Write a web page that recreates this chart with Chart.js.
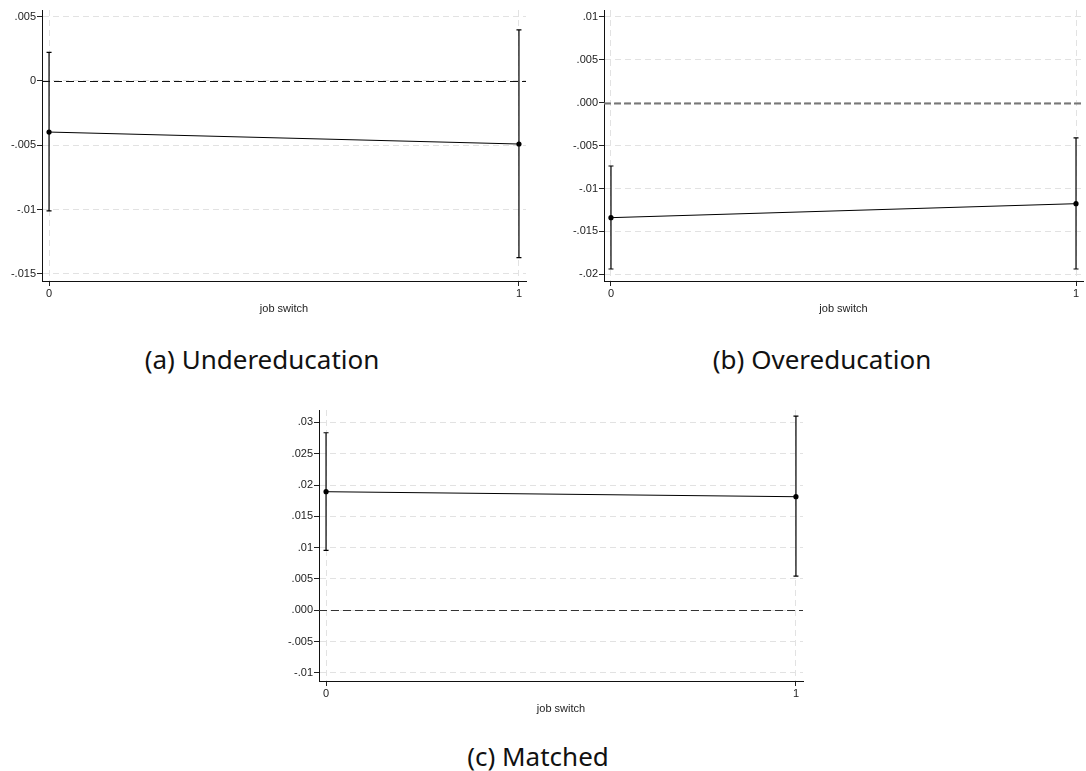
<!DOCTYPE html>
<html>
<head>
<meta charset="utf-8">
<script src="https://cdn.jsdelivr.net/npm/chart.js@4.4.1/dist/chart.umd.min.js"></script>
<style>
  html, body { margin: 0; padding: 0; background: #fff; width: 1086px; height: 771px; overflow: hidden; }
  body { position: relative; }
  .panel { position: absolute; }
  .caption {
    position: absolute; transform: translate(-50%, -50%);
    font-family: "Noto Sans", sans-serif; font-size: 26px; color: #111;
    white-space: nowrap; line-height: 30px;
  }
</style>
</head>
<body>
<div class="panel" style="left:0px;top:0px"><canvas id="chartA" width="540" height="316"></canvas></div>
<div class="panel" style="left:562px;top:0px"><canvas id="chartB" width="525" height="316"></canvas></div>
<div class="panel" style="left:277px;top:400px"><canvas id="chartC" width="540" height="316"></canvas></div>
<div class="caption" style="left:262px;top:359px">(a) Undereducation</div>
<div class="caption" style="left:822px;top:359px">(b) Overeducation</div>
<div class="caption" style="left:538px;top:756px">(c) Matched</div>

<script>
// Categories on the x axis
const jobSwitch = [0, 1];
const jobSwitchLabels = ['0', '1'];

// Undereducation: point estimates and confidence bounds
const underEst = [-0.00397, -0.0049];
const underLo  = [-0.0101, -0.01374];
const underHi  = [0.00223, 0.00397];

// Overeducation
const overEst = [-0.0134, -0.01177];
const overLo  = [-0.01938, -0.01938];
const overHi  = [-0.00738, -0.00411];

// Matched
const matchEst = [0.01893, 0.01813];
const matchLo  = [0.00957, 0.00547];
const matchHi  = [0.02834, 0.0310];

// Y tick values and their printed labels
const underTicks = [0.005, 0, -0.005, -0.01, -0.015];
const underTickLabels = ['.005', '0', '-.005', '-.01', '-.015'];
const overTicks = [0.01, 0.005, 0, -0.005, -0.01, -0.015, -0.02];
const overTickLabels = ['.01', '.005', '.000', '-.005', '-.01', '-.015', '-.02'];
const matchTicks = [0.03, 0.025, 0.02, 0.015, 0.01, 0.005, 0, -0.005, -0.01];
const matchTickLabels = ['.03', '.025', '.02', '.015', '.01', '.005', '.000', '-.005', '-.01'];

const tickFont = { family: 'Liberation Sans, Arial, sans-serif', size: 11 };

// Confidence interval whiskers with small caps
const errorBarPlugin = {
  id: 'errorBars',
  beforeDatasetsDraw(chart, args, opts) {
    const { ctx, scales: { x, y } } = chart;
    ctx.save();
    ctx.strokeStyle = '#000';
    ctx.lineWidth = 1.2;
    opts.xs.forEach((xv, i) => {
      const px = x.getPixelForValue(xv);
      const top = y.getPixelForValue(opts.hi[i]);
      const bot = y.getPixelForValue(opts.lo[i]);
      ctx.beginPath();
      ctx.moveTo(px, top); ctx.lineTo(px, bot);
      ctx.moveTo(px - 2.5, top); ctx.lineTo(px + 2.5, top);
      ctx.moveTo(px - 2.5, bot); ctx.lineTo(px + 2.5, bot);
      ctx.stroke();
    });
    ctx.restore();
  }
};

// Horizontal reference line at zero
const refLinePlugin = {
  id: 'refLine',
  beforeDatasetsDraw(chart, args, opts) {
    const { ctx, chartArea, scales: { y } } = chart;
    const py = Math.round(y.getPixelForValue(opts.value)) + 0.5;
    ctx.save();
    ctx.strokeStyle = opts.color;
    ctx.lineWidth = opts.width;
    ctx.setLineDash(opts.dash);
    ctx.beginPath();
    ctx.moveTo(chartArea.left, py);
    ctx.lineTo(chartArea.right, py);
    ctx.stroke();
    ctx.restore();
  }
};

function buildPanel(id, est, lo, hi, yMin, yMax, ticks, tickLabels, ref, padRight) {
  new Chart(document.getElementById(id), {
    type: 'scatter',
    data: {
      datasets: [{
        data: jobSwitch.map((xv, i) => ({ x: xv, y: est[i] })),
        showLine: true,
        borderColor: '#000',
        borderWidth: 1,
        pointRadius: 2.6,
        pointBackgroundColor: '#000',
        pointBorderWidth: 0,
        clip: false
      }]
    },
    options: {
      responsive: false,
      animation: false,
      events: [],
      layout: { padding: { left: 0, right: padRight, top: 10, bottom: 0 } },
      plugins: {
        legend: { display: false },
        tooltip: { enabled: false },
        errorBars: { xs: jobSwitch, lo: lo, hi: hi },
        refLine: ref
      },
      scales: {
        x: {
          type: 'linear', min: -0.015, max: 1.015,
          afterBuildTicks: s => { s.ticks = jobSwitch.map(v => ({ value: v })); },
          afterFit: s => { s.height = 35; },
          ticks: { font: tickFont, color: '#222', padding: 1, maxRotation: 0, autoSkip: false,
                   callback: (v, i) => jobSwitchLabels[i] },
          grid: { color: '#e2e2e2', lineWidth: 1, drawTicks: true, tickLength: 5,
                  tickColor: '#222', tickWidth: 1, tickBorderDash: [0, 0] },
          border: { display: true, color: '#111', width: 1, dash: [6, 4] },
          title: { display: true, text: 'job switch', font: tickFont, color: '#222', padding: 0 }
        },
        y: {
          type: 'linear', min: yMin, max: yMax,
          afterBuildTicks: s => { s.ticks = ticks.map(v => ({ value: v })); },
          afterFit: s => { s.width = 42; },
          ticks: { font: tickFont, color: '#222', padding: 1,
                   callback: (v, i) => tickLabels[i] },
          grid: { color: '#e2e2e2', lineWidth: 1, drawTicks: true, tickLength: 5,
                  tickColor: '#222', tickWidth: 1, tickBorderDash: [0, 0] },
          border: { display: true, color: '#111', width: 1, dash: [6, 4] }
        }
      }
    },
    plugins: [errorBarPlugin, refLinePlugin]
  });
}

buildPanel('chartA', underEst, underLo, underHi, -0.01555, 0.00552, underTicks, underTickLabels,
  { value: 0, color: '#111', width: 1.2, dash: [8, 4] }, 14);
buildPanel('chartB', overEst, overLo, overHi, -0.02078, 0.0108, overTicks, overTickLabels,
  { value: 0, color: '#777', width: 2, dash: [7, 3] }, 0);
buildPanel('chartC', matchEst, matchLo, matchHi, -0.01128, 0.03197, matchTicks, matchTickLabels,
  { value: 0, color: '#333', width: 1.2, dash: [8, 4] }, 14);
</script>
</body>
</html>
